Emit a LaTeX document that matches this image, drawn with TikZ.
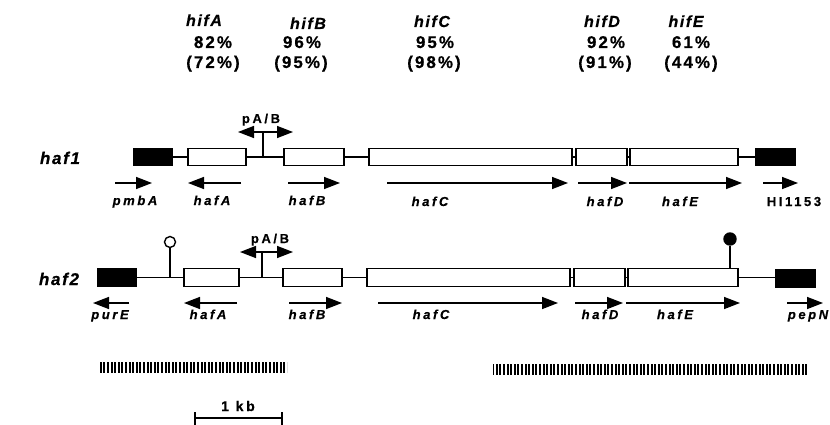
\documentclass[tikz,border=0pt]{standalone}
\usepackage{fontspec}
\setmainfont{Liberation Sans}
\newfontfamily\topf[LetterSpace=12, BoldFeatures={FakeBold=0.5}, BoldItalicFeatures={FakeBold=0.5}]{Liberation Sans}
\newfontfamily\hiff[LetterSpace=10, BoldFeatures={FakeBold=0.5}, BoldItalicFeatures={FakeBold=0.5}]{Liberation Sans}
\newfontfamily\genf[LetterSpace=20, BoldFeatures={FakeBold=0.5}, BoldItalicFeatures={FakeBold=0.5}]{Liberation Sans}
\usetikzlibrary{arrows.meta,patterns.meta}
\tikzset{
  toplbl/.style={font=\topf\fontsize{17}{20}\selectfont\bfseries, anchor=base, inner sep=0pt},
  topit/.style={font=\hiff\fontsize{16}{19}\selectfont\bfseries\itshape, anchor=base, inner sep=0pt},
  rowlbl/.style={font=\hiff\fontsize{17}{20}\selectfont\bfseries\itshape, anchor=base, inner sep=0pt},
  genlbl/.style={font=\genf\fontsize{13}{15}\selectfont\bfseries\itshape, anchor=base, inner sep=0pt},
  genup/.style={font=\genf\fontsize{13}{15}\selectfont\bfseries, anchor=base, inner sep=0pt},
  orf/.style={draw, line width=1.7pt, fill=white, inner sep=0pt, minimum height=17pt},
  flank/.style={draw, line width=1.3pt, fill=black, inner sep=0pt, minimum height=17pt, minimum width=39pt},
  link/.style={line width=1.6pt},
  dir/.style={line width=1.5pt, -{Triangle[length=16pt,width=12pt]}},
  hatch/.style={inner sep=0pt, minimum height=10pt, pattern={Lines[angle=90,distance=3.6pt,line width=2.1pt]}},
}
\begin{document}
\begin{tikzpicture}[x=1pt,y=-1pt]
\useasboundingbox (0,0) rectangle (830,425);

% ---------- top identity labels ----------
\node[topit] (tA) at (204,26) {hifA};
\node[toplbl] (tA1) at (213,48) {82\%};
\node[toplbl] (tA2) at (213,68) {(72\%)};
\node[topit] (tB) at (308,29) {hifB};
\node[toplbl] (tB1) at (302,48) {96\%};
\node[toplbl] (tB2) at (301,68) {(95\%)};
\node[topit] (tC) at (432,27) {hifC};
\node[toplbl] (tC1) at (435,48) {95\%};
\node[toplbl] (tC2) at (434,68) {(98\%)};
\node[topit] (tD) at (602,27) {hifD};
\node[toplbl] (tD1) at (606,48) {92\%};
\node[toplbl] (tD2) at (605,68) {(91\%)};
\node[topit] (tE) at (686,27) {hifE};
\node[toplbl] (tE1) at (691,48) {61\%};
\node[toplbl] (tE2) at (691,68) {(44\%)};

% ---------- haf1 ----------
\node[rowlbl] (haf1) at (60,164) {haf1};
\node[flank] (a0) at (153,157) {};
\node[orf, minimum width=58pt] (a1) at (217,157) {};
\node[orf, minimum width=60pt] (a2) at (314,157) {};
\node[orf, minimum width=203pt] (a3) at (470.5,157) {};
\node[orf, minimum width=51pt] (a4) at (601.5,157) {};
\node[orf, minimum width=108pt] (a5) at (684,157) {};
\node[flank] (a6) at (775.5,157) {};
\draw[link] (a0.east) -- (a1.west);
\draw[link] (a1.east) -- (a2.west);
\draw[link] (a2.east) -- (a3.west);
\draw[link] (a3.east) -- (a4.west);
\draw[link] (a4.east) -- (a5.west);
\draw[link] (a5.east) -- (a6.west);
% promoter
\coordinate (p1b) at (263,157);
\coordinate (p1t) at (263,132);
\coordinate (p1l) at (238,132);
\coordinate (p1r) at (293,132);
\draw[link] (p1b) -- (p1t);
\draw[dir] (p1t) -- (p1l);
\draw[dir] (p1t) -- (p1r);
\node[genup] (p1lab) at (261,123) {pA/B};
% direction arrows
\coordinate (d10s) at (115,183); \coordinate (d10e) at (152,183);
\coordinate (d11s) at (241,183); \coordinate (d11e) at (188,183);
\coordinate (d12s) at (288,183); \coordinate (d12e) at (340,183);
\coordinate (d13s) at (387,183); \coordinate (d13e) at (568,183);
\coordinate (d14s) at (578,183); \coordinate (d14e) at (627,183);
\coordinate (d15s) at (629,183); \coordinate (d15e) at (742,183);
\coordinate (d16s) at (763,183); \coordinate (d16e) at (798,183);
\foreach \i in {0,...,6} {\draw[dir] (d1\i s) -- (d1\i e);}
\node[genlbl] (l10) at (135,205) {pmbA};
\node[genlbl] (l11) at (212,205) {hafA};
\node[genlbl] (l12) at (307,205) {hafB};
\node[genlbl] (l13) at (430,206) {hafC};
\node[genlbl] (l14) at (605,206) {hafD};
\node[genlbl] (l15) at (680,206) {hafE};
\node[genup] (l16) at (794,206) {HI1153};

% ---------- haf2 ----------
\node[rowlbl] (haf2) at (59,285) {haf2};
\node[flank, minimum height=18pt] (b0) at (117,277.5) {};
\node[orf, minimum height=18pt, minimum width=55pt] (b1) at (211.5,277.5) {};
\node[orf, minimum height=18pt, minimum width=59pt] (b2) at (312.5,277.5) {};
\node[orf, minimum height=18pt, minimum width=203pt] (b3) at (468.5,277.5) {};
\node[orf, minimum height=18pt, minimum width=51pt] (b4) at (599.5,277.5) {};
\node[orf, minimum height=18pt, minimum width=110pt] (b5) at (683,277.5) {};
\node[flank, minimum height=18pt] (b6) at (795.5,278.5) {};
\draw[link] (b0.east) -- (b1.west);
\draw[link] (b1.east) -- (b2.west);
\draw[link] (b2.east) -- (b3.west);
\draw[link] (b3.east) -- (b4.west);
\draw[link] (b4.east) -- (b5.west);
\draw[link] (b5.east) -- (b6.west |- b5.east);
% terminators
\coordinate (t1b) at (170,277.5);
\node[draw, circle, line width=1.4pt, fill=white, minimum size=11pt, inner sep=0pt] (t1) at (170,242) {};
\draw[link] (t1b) -- (t1.south);
\coordinate (t2b) at (730,268.5);
\node[draw, circle, line width=1.4pt, fill=black, minimum size=12pt, inner sep=0pt] (t2) at (730,239) {};
\draw[link] (t2b) -- (t2.south);
% promoter
\coordinate (p2b) at (262,277.5);
\coordinate (p2t) at (262,252);
\coordinate (p2l) at (240,252);
\coordinate (p2r) at (293,252);
\draw[link] (p2b) -- (p2t);
\draw[dir] (p2t) -- (p2l);
\draw[dir] (p2t) -- (p2r);
\node[genup] (p2lab) at (270,243) {pA/B};
% direction arrows
\coordinate (d20s) at (129,303); \coordinate (d20e) at (93,303);
\coordinate (d21s) at (237,303); \coordinate (d21e) at (184,303);
\coordinate (d22s) at (289,303); \coordinate (d22e) at (342,303);
\coordinate (d23s) at (378,303); \coordinate (d23e) at (558,303);
\coordinate (d24s) at (575,303); \coordinate (d24e) at (623,303);
\coordinate (d25s) at (626,303); \coordinate (d25e) at (740,303);
\coordinate (d26s) at (787,303); \coordinate (d26e) at (823,303);
\foreach \i in {0,...,6} {\draw[dir] (d2\i s) -- (d2\i e);}
\node[genlbl] (l20) at (110,319) {purE};
\node[genlbl] (l21) at (208,319) {hafA};
\node[genlbl] (l22) at (307,319) {hafB};
\node[genlbl] (l23) at (431,319) {hafC};
\node[genlbl] (l24) at (600,319) {hafD};
\node[genlbl] (l25) at (675,319) {hafE};
\node[genlbl] (l26) at (808,319) {pepN};

% ---------- hatched bars ----------
\node[hatch, minimum width=187pt] (bar1) at (193.5,367.5) {};
\node[hatch, minimum width=314pt] (bar2) at (650,369.5) {};

% ---------- scale ----------
\coordinate (s1) at (195,418);
\coordinate (s2) at (282,418);
\draw[link] (s1) -- (s2);
\draw[link] ([yshift=-8pt]s1) -- ([yshift=6pt]s1);
\draw[link] ([yshift=-8pt]s2) -- ([yshift=6pt]s2);
\node[genup, font=\genf\fontsize{14}{16}\selectfont\bfseries] (kb) at (238,411) {1\ kb};
\end{tikzpicture}
\end{document}
